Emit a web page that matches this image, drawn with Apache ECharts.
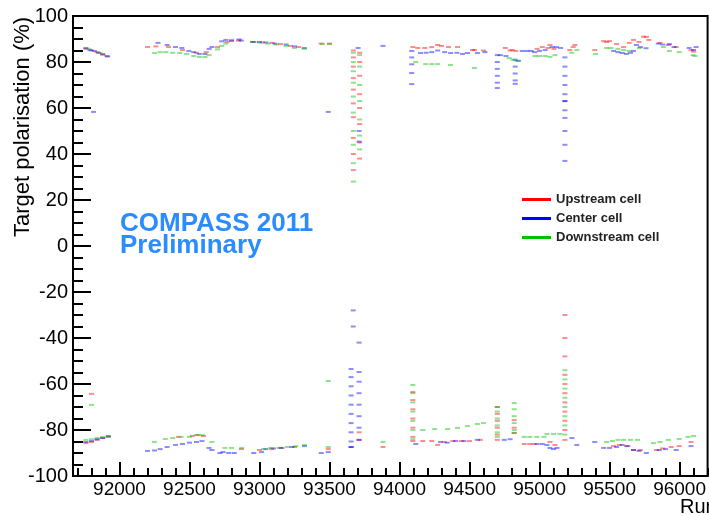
<!DOCTYPE html>
<html>
<head>
<meta charset="utf-8">
<script src="https://cdn.jsdelivr.net/npm/echarts@6/dist/echarts.min.js"></script>
<style>
  html, body { margin: 0; padding: 0; background: #fff; }
  #chart { width: 709px; height: 516px; }
</style>
</head>
<body>
<div id="chart"></div>
<script>
// Target polarisation per run, one [run, polarisation %] pair per measurement.
const upstream = [
  [91760,85.7],[91800,85.0],[91840,84.3],[91880,83.5],[91910,82.6],
  [92200,86.5],[92260,86.8],[92350,86.5],[92450,85.2],[92550,84.0],[92620,84.3],[92700,86.5],[92767,88.7],[92800,89.6],[92850,89.3],
  [92950,88.7],[93020,88.5],[93090,88.3],[93150,87.8],[93220,87.0],[93280,86.5],[93440,88.0],[93500,88.0],
  [93670,85.0],[93670,82.0],[93670,78.0],[93670,73.0],[93670,68.0],[93670,62.0],[93670,56.0],[93670,47.0],[93670,40.0],[93670,33.0],
  [93715,84.0],[93715,80.0],[93715,74.0],[93715,66.0],[93715,60.0],[93715,53.0],[93715,45.0],[93715,38.0],
  [94095,86.5],[94130,86.1],[94180,86.1],[94230,86.5],[94272,87.4],[94300,87.0],[94350,86.5],[94414,86.5],[94521,85.2],[94535,85.2],[94600,85.0],
  [94755,86.1],[94790,85.0],[94805,85.2],[94830,84.8],
  [94982,85.7],[95020,86.5],[95060,86.1],[95074,87.4],[95103,85.7],
  [95216,85.2],[95240,86.5],[95252,87.4],
  [95394,85.2],[95458,89.1],[95479,88.7],[95500,89.1],[95550,87.8],[95600,86.5],[95640,88.3],[95671,89.6],[95710,88.7],[95742,91.0],[95763,90.9],[95780,89.6],
  [95860,88.3],[95920,87.4],[95976,86.5],[96082,85.2],[96100,84.5],
  [91800,-64.3],
  [91760,-85.7],[91800,-85.2],[91840,-84.3],[91880,-83.5],[91920,-82.6],
  [92420,-83.0],[92520,-82.6],[92560,-82.2],[92600,-82.6],
  [92870,-88.3],[93000,-88.7],[93086,-88.3],[93150,-87.8],[93250,-87.4],[93491,-88.3],
  [93711,-84.3],[93711,-81.0],[93882,-87.4],
  [94095,-63.5],[94095,-67.0],[94095,-71.0],[94095,-75.0],[94095,-79.0],[94095,-83.0],[94095,-84.8],
  [94166,-84.8],[94230,-84.8],[94272,-86.5],[94320,-85.2],[94380,-84.8],[94440,-84.8],[94500,-84.8],[94577,-84.3],
  [94698,-70.0],[94698,-73.0],[94698,-76.0],[94698,-79.0],[94698,-82.0],[94698,-84.3],
  [94819,-75.7],[94819,-79.0],[94819,-81.3],
  [94890,-86.1],[94930,-86.1],[94961,-86.1],[95074,-85.2],[95110,-86.5],
  [95181,-30.0],[95181,-40.0],[95181,-48.0],
  [95181,-56.0],[95181,-60.0],[95181,-64.0],[95181,-68.0],[95181,-72.0],[95181,-76.0],[95181,-80.0],[95181,-84.3],
  [95529,-87.0],[95570,-86.5],[95620,-87.0],[95671,-88.7],[95720,-88.7],[95834,-88.7],[95880,-88.0],[95940,-87.4],[95997,-87.0],[96082,-85.2]
];

const center = [
  [91760,86.1],[91790,85.2],[91820,84.8],[91850,84.0],[91880,83.2],[91915,82.4],[91815,58.3],
  [92275,88.3],[92340,87.4],[92400,86.5],[92445,86.1],[92495,84.8],[92530,84.3],[92570,83.5],[92610,83.5],[92640,85.7],[92660,86.5],
  [92730,89.0],[92760,89.6],[92800,89.1],[92855,89.8],[92870,89.3],
  [92960,88.7],[93000,88.7],[93045,88.5],[93110,88.0],[93190,87.6],[93250,86.8],[93320,86.1],[93491,58.3],[93704,86.1],[93882,87.0],
  [93711,50.0],[93711,45.4],[93669,-28.0],[93669,-35.0],[93711,-42.0],
  [94087,84.8],[94087,82.0],[94087,79.0],[94087,75.2],[94087,70.4],
  [94150,83.9],[94190,84.0],[94230,84.3],[94272,85.0],[94322,84.3],[94365,83.9],[94410,84.0],[94450,83.5],[94485,83.9],[94556,83.9],[94610,84.3],
  [94698,83.0],[94698,80.0],[94698,77.0],[94698,74.0],[94698,71.0],[94698,68.7],[94720,83.0],[94760,82.6],
  [94826,81.0],[94826,78.0],[94826,75.0],[94826,72.0],[94826,70.5],[94850,80.5],
  [94876,84.8],[94910,84.8],[94940,84.8],[94965,84.3],[95000,84.8],[95040,85.2],[95089,86.5],[95120,86.5],[95150,86.1],
  [95181,82.0],[95181,78.0],[95181,74.0],[95181,70.0],[95181,66.0],[95181,63.0],[95181,63.0],[95181,59.0],[95181,55.7],[95181,50.0],[95181,44.0],[95181,37.0],
  [95529,84.8],[95560,84.3],[95590,83.9],[95620,83.5],[95650,84.0],[95671,84.8],[95692,87.4],[95720,86.5],[95760,86.0],
  [95848,88.0],[95880,87.6],[95927,87.8],[95960,86.5],[96068,86.1],[96100,85.2],[96118,86.5],
  [91760,-85.2],[91800,-84.8],[91840,-84.0],[91880,-83.5],[91920,-83.0],
  [92200,-89.1],[92250,-88.9],[92290,-88.3],[92340,-87.4],[92400,-86.5],[92450,-86.1],[92500,-85.5],[92550,-85.2],[92589,-84.8],
  [92639,-87.8],[92660,-88.7],[92717,-90.0],[92740,-89.6],[92780,-90.0],[92820,-90.0],
  [92959,-90.0],[93015,-89.6],[93044,-88.3],[93100,-88.0],[93160,-87.8],[93230,-87.4],[93321,-87.0],[93441,-90.0],[93491,-89.6],
  [93654,-53.5],[93654,-57.0],[93654,-61.0],[93654,-65.0],[93654,-69.0],[93654,-73.0],[93654,-77.0],[93654,-81.0],[93654,-85.0],[93654,-87.4],[93654,-87.4],
  [93711,-54.8],[93711,-59.0],[93711,-64.0],[93711,-69.0],[93711,-74.0],[93711,-79.0],[93711,-84.3],
  [94116,-86.1],[94293,-85.2],[94340,-85.5],[94400,-84.8],[94460,-84.8],[94556,-84.3],
  [94748,-84.3],[94790,-84.0],
  [94982,-86.1],[95020,-86.1],[95053,-86.5],[95074,-87.8],[95100,-88.3],[95124,-87.8],
  [95231,-83.5],[95266,-86.5],
  [95394,-85.2],[95458,-87.8],[95500,-87.8],[95550,-87.4],[95590,-86.5],[95630,-87.0],[95671,-88.7],[95710,-89.1],[95763,-90.0],
  [95855,-88.7],[95900,-88.3],[95976,-88.7],[96082,-87.0]
];

const downstream = [
  [91780,85.7],[91860,83.9],
  [92250,83.9],[92290,84.3],[92330,84.3],[92380,84.0],[92430,83.9],[92480,83.5],[92530,82.6],[92570,82.2],[92610,82.2],[92640,83.0],
  [92700,85.5],[92730,87.0],[92760,88.0],
  [92950,88.7],[93000,88.5],[93060,88.0],[93120,87.6],[93190,87.0],[93250,86.1],[93320,85.7],[93450,87.8],[93500,87.8],
  [93670,84.0],[93670,80.0],[93670,76.0],[93670,71.0],[93670,65.0],[93670,58.0],[93670,50.0],[93670,44.0],[93670,36.0],[93670,28.0],
  [93715,83.0],[93715,78.0],[93715,70.0],[93715,63.0],[93715,55.0],[93715,48.0],[93715,42.0],
  [94116,80.0],[94187,79.1],[94230,79.1],[94272,79.1],[94364,78.7],[94535,77.4],
  [94783,81.7],[94810,81.0],[94840,80.5],
  [94968,82.6],[95000,82.6],[95040,82.6],[95074,82.2],[95110,83.0],
  [95230,84.0],[95266,85.2],
  [95400,83.5],[95479,86.1],[95510,86.1],[95560,85.7],[95600,85.2],[95640,84.8],[95713,86.1],
  [95884,86.5],[95927,84.8],[95997,84.3],[96096,83.0],[96110,82.6],
  [91800,-69.1],
  [91760,-84.3],[91800,-84.0],[91840,-83.5],[91880,-83.0],[91920,-82.6],
  [92249,-85.2],[92327,-83.9],[92380,-83.5],[92440,-83.0],[92500,-83.0],[92550,-82.2],[92590,-82.2],[92660,-85.2],
  [92753,-87.8],[92800,-87.8],[92873,-87.8],
  [93030,-88.3],[93080,-87.8],[93140,-87.8],[93200,-87.4],[93260,-87.0],[93321,-86.5],[93491,-87.4],[93491,-58.7],
  [93882,-85.2],
  [94095,-60.4],[94095,-64.0],[94095,-68.0],[94095,-72.0],[94095,-76.0],[94095,-80.0],[94095,-84.0],
  [94166,-80.0],[94251,-79.6],[94343,-79.6],[94414,-79.1],[94485,-78.3],[94556,-77.4],[94600,-77.0],
  [94698,-70.0],[94698,-72.0],[94698,-75.0],[94698,-78.0],[94698,-81.0],[94698,-83.0],
  [94819,-68.3],[94819,-71.0],[94819,-74.0],[94819,-77.0],[94819,-80.0],[94819,-81.3],
  [94890,-83.0],[94930,-83.0],[94980,-83.0],[95032,-83.0],[95053,-81.7],[95100,-81.7],[95145,-81.7],
  [95181,-54.0],[95181,-58.0],[95181,-62.0],[95181,-66.0],[95181,-70.0],[95181,-74.0],[95181,-78.0],[95181,-82.0],
  [95479,-85.2],[95520,-84.8],[95560,-84.3],[95600,-84.3],[95650,-84.3],[95700,-84.3],
  [95813,-85.7],[95860,-85.2],[95920,-84.3],[95997,-83.9],[96061,-83.0],[96100,-82.6]
];

const cellNames = ['Upstream cell', 'Center cell', 'Downstream cell'];
const cellColors = ['#ff0000', '#0000ff', '#00c000'];

// Axis ticks and labels
const runMin = 91668, runMax = 96200;
const runLabels = [92000, 92500, 93000, 93500, 94000, 94500, 95000, 95500, 96000];
const runMinorTicks = [];
for (let r = 91700; r <= runMax; r += 100) {
  if (r % 500 !== 0) runMinorTicks.push(r);
}

const FONT = '"Liberation Sans", Arial, Helvetica, sans-serif';

const chart = echarts.init(document.getElementById('chart'), null, { renderer: 'canvas' });

function cellSeries(name, data, color) {
  return {
    name: name,
    type: 'scatter',
    xAxisIndex: 0,
    yAxisIndex: 0,
    data: data,
    symbol: 'rect',
    symbolSize: [5, 2],
    itemStyle: { color: color, opacity: 0.45 },
    silent: true,
    animation: false
  };
}

chart.setOption({
  animation: false,
  backgroundColor: '#fff',
  grid: {
    left: 73, top: 16, right: -2, bottom: 40,
    show: true, borderColor: '#000', borderWidth: 2, backgroundColor: 'transparent'
  },
  xAxis: [
    {
      type: 'value', min: runMin, max: runMax,
      axisLine: { show: true, onZero: false, lineStyle: { color: '#000', width: 2 } },
      axisTick: { show: true, inside: true, length: 14, customValues: runLabels, lineStyle: { color: '#000', width: 2 } },
      axisLabel: {
        show: true, customValues: runLabels, color: '#000', fontSize: 19, fontFamily: FONT, margin: 4,
        formatter: (v) => String(v)
      },
      splitLine: { show: false }
    },
    {
      type: 'value', min: runMin, max: runMax, position: 'bottom', gridIndex: 0,
      axisLine: { show: false, onZero: false },
      axisTick: { show: true, inside: true, length: 8, customValues: runMinorTicks, lineStyle: { color: '#000', width: 2 } },
      axisLabel: { show: false },
      splitLine: { show: false }
    }
  ],
  yAxis: {
    type: 'value', min: -100, max: 100, interval: 20,
    axisLine: { show: true, onZero: false, lineStyle: { color: '#000', width: 2 } },
    axisTick: { show: true, inside: true, length: 18, lineStyle: { color: '#000', width: 2 } },
    minorTick: { show: true, splitNumber: 4, length: 10, lineStyle: { color: '#000', width: 2 } },
    axisLabel: { color: '#000', fontSize: 20, fontFamily: FONT, margin: 5 },
    splitLine: { show: false },
    minorSplitLine: { show: false }
  },
  legend: {
    orient: 'vertical',
    left: 517, top: 188,
    itemWidth: 29, itemHeight: 3, itemGap: 6,
    data: cellNames.map((n, i) => ({ name: n, icon: 'rect', itemStyle: { color: cellColors[i], opacity: 1 } })),
    textStyle: { color: '#222', fontSize: 13, fontWeight: 'bold', fontFamily: FONT },
    selectedMode: false
  },
  graphic: [
    {
      type: 'text', x: 23, y: 237, rotation: Math.PI / 2,
      style: { text: 'Target polarisation (%)', font: '22px ' + FONT, fill: '#000', textAlign: 'left', textVerticalAlign: 'middle' }
    },
    {
      type: 'text', x: 680, y: 507,
      style: { text: 'Run', font: '20px ' + FONT, fill: '#000', textAlign: 'left', textVerticalAlign: 'middle' }
    },
    {
      type: 'text', x: 120, y: 224,
      style: { text: 'COMPASS 2011', font: 'bold 26px ' + FONT, fill: '#2b8cff', textAlign: 'left', textVerticalAlign: 'middle' }
    },
    {
      type: 'text', x: 120, y: 246,
      style: { text: 'Preliminary', font: 'bold 26px ' + FONT, fill: '#2b8cff', textAlign: 'left', textVerticalAlign: 'middle' }
    }
  ],
  series: [
    cellSeries(cellNames[0], upstream, cellColors[0]),
    cellSeries(cellNames[1], center, cellColors[1]),
    cellSeries(cellNames[2], downstream, cellColors[2])
  ]
});
</script>
</body>
</html>
